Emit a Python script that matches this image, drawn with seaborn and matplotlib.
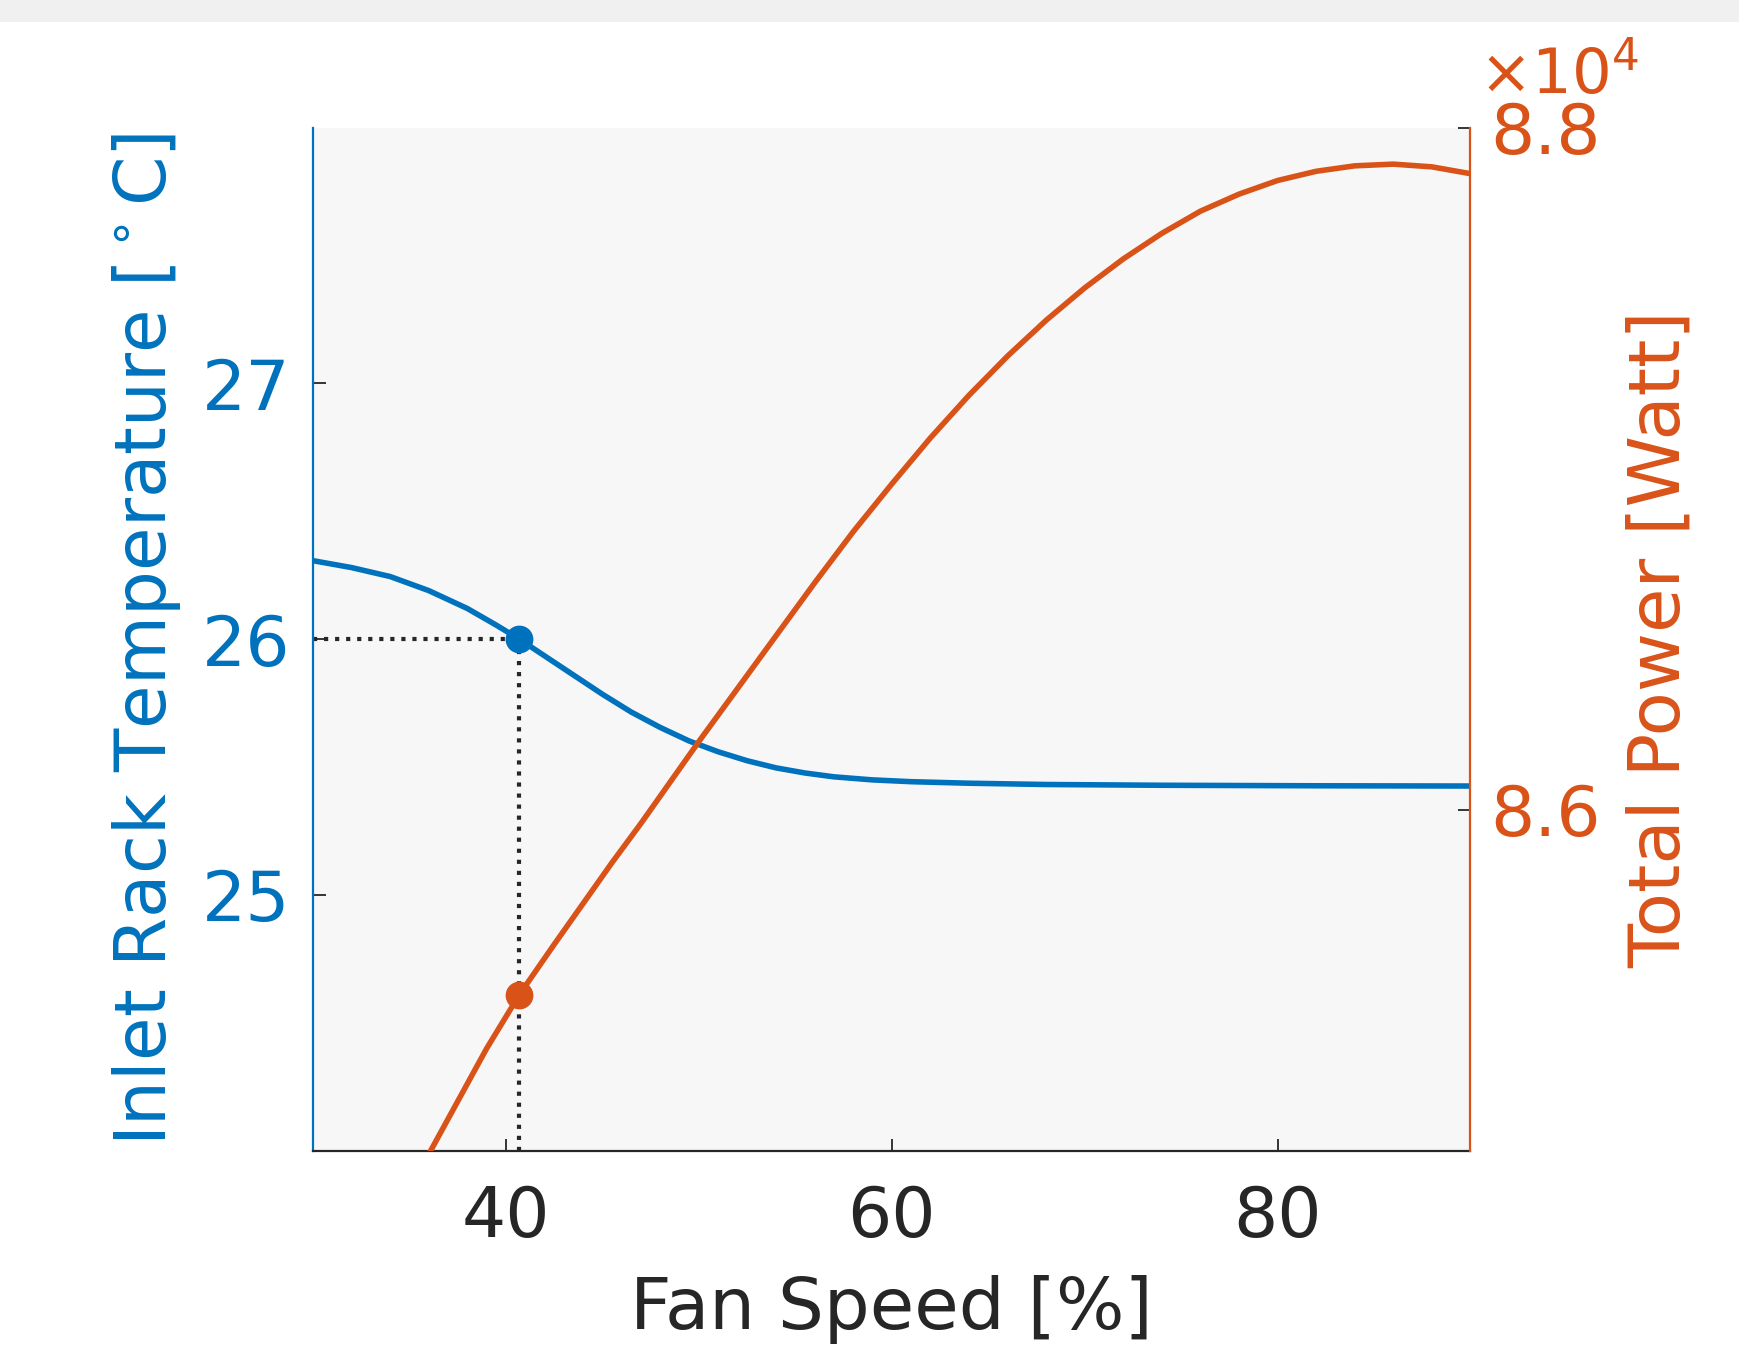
import matplotlib
matplotlib.use("Agg")
import matplotlib.pyplot as plt
import matplotlib.ticker as mticker
from matplotlib.patches import Rectangle
import seaborn as sns
import pandas as pd

# Curva de temperatura (eje izquierdo)
fan_temp = [30.0, 32.0, 34.0, 36.0, 38.0, 39.5, 40.7, 42.0, 43.5, 45.0, 46.5, 48.0, 49.5, 51.0, 52.5,
            54.0, 55.5, 57.0, 59.0, 61.0, 64.0, 68.0, 74.0, 82.0, 90.0]
temp_c = [26.307, 26.280, 26.245, 26.190, 26.120, 26.055, 26.000, 25.935, 25.860, 25.785, 25.715,
          25.655, 25.602, 25.560, 25.525, 25.497, 25.477, 25.462, 25.450, 25.443, 25.437, 25.432,
          25.429, 25.427, 25.426]

# Curva de potencia total (eje derecho), en Watt
fan_power = [36.0, 37.5, 39.0, 40.7, 42.5, 44.0, 45.5, 47.0, 48.5, 50.0, 52.0, 54.0, 56.0, 58.0, 60.0,
             62.0, 64.0, 66.0, 68.0, 70.0, 72.0, 74.0, 76.0, 78.0, 80.0, 82.0, 84.0, 86.0, 88.0, 90.0]
power_w = [84990, 85145, 85300, 85458, 85605, 85725, 85845, 85960, 86080, 86200, 86355, 86510, 86665,
           86815, 86955, 87090, 87215, 87330, 87435, 87530, 87615, 87690, 87755, 87805, 87845, 87872,
           87888, 87893, 87885, 87865]

# Punto de operación
op_fan = 40.7
op_temp = 26.0
op_power = 85458

BLUE = "#0072BD"
ORANGE = "#D95319"
DARK = "#262626"

TICK_FS = 50
LABEL_FS = 52

sns.set_style("ticks")
plt.rcParams["font.family"] = ["DejaVu Sans"]
plt.rcParams["mathtext.fontset"] = "dejavusans"

fig = plt.figure(figsize=(17.4, 13.45), dpi=100)
fig.patch.set_facecolor("white")
# franja gris superior
fig.patches.append(Rectangle((0, 1 - 22 / 1345), 1, 22 / 1345, transform=fig.transFigure,
                             facecolor="#f0f0f0", edgecolor="none", zorder=0))

ax = fig.add_axes([0.1799, 0.1444, 0.6652, 0.7607])
ax.set_facecolor("#f7f7f7")
ax2 = ax.twinx()

df_t = pd.DataFrame({"fan": fan_temp, "temp": temp_c})
df_p = pd.DataFrame({"fan": fan_power, "power": power_w})

# líneas guía punteadas
ax.plot([30, op_fan], [op_temp, op_temp], linestyle=":", color=DARK, linewidth=3, zorder=2)
ax.plot([op_fan, op_fan], [24, op_temp], linestyle=":", color=DARK, linewidth=3, zorder=2)

sns.lineplot(data=df_t, x="fan", y="temp", ax=ax, color=BLUE, linewidth=4, sort=False, zorder=3)
ax.plot([op_fan], [op_temp], "o", color=BLUE, ms=19, zorder=4)

sns.lineplot(data=df_p, x="fan", y="power", ax=ax2, color=ORANGE, linewidth=4, sort=False, zorder=3)
ax2.plot([op_fan], [op_power], "o", color=ORANGE, ms=19, zorder=4)

ax.set_xlim(30, 90)
ax.set_ylim(24, 28)
ax2.set_ylim(85000, 88000)

ax.set_xticks([40, 60, 80])
ax.set_yticks([25, 26, 27])
ax2.set_yticks([86000, 88000])
ax2.yaxis.set_major_formatter(mticker.FuncFormatter(lambda v, p: f"{v / 1e4:.1f}"))

ax.set_xlabel("Fan Speed [%]", fontsize=LABEL_FS, color=DARK, labelpad=17)
ax.set_ylabel(r"Inlet Rack Temperature [$^\circ$C]", fontsize=51, color=BLUE, labelpad=14)
ax2.set_ylabel("Total Power [Watt]", fontsize=LABEL_FS, color=ORANGE, labelpad=18)

ax.tick_params(axis="x", direction="in", length=9, width=1.3, colors=DARK, labelsize=TICK_FS, pad=24)
ax.tick_params(axis="y", direction="in", length=9, width=1.3, color=DARK, labelcolor=BLUE,
               labelsize=TICK_FS, pad=16)
ax2.tick_params(axis="y", direction="in", length=9, width=1.3, color=DARK, labelcolor=ORANGE,
                labelsize=TICK_FS, pad=14)

for a in (ax, ax2):
    a.spines["top"].set_visible(False)
    a.grid(False)
ax.spines["right"].set_visible(False)
ax.spines["left"].set_color(BLUE)
ax.spines["bottom"].set_color(DARK)
ax2.spines["left"].set_visible(False)
ax2.spines["bottom"].set_visible(False)
ax2.spines["right"].set_color(ORANGE)
for s in ("left", "bottom"):
    ax.spines[s].set_linewidth(1.6)
ax2.spines["right"].set_linewidth(1.6)

# exponente al estilo MATLAB
fig.text(1479 / 1740, 1 - 94 / 1345, r"$\times10^{4}$", color=ORANGE, fontsize=45,
         ha="left", va="baseline")

fig.savefig("out.png", dpi=100)
